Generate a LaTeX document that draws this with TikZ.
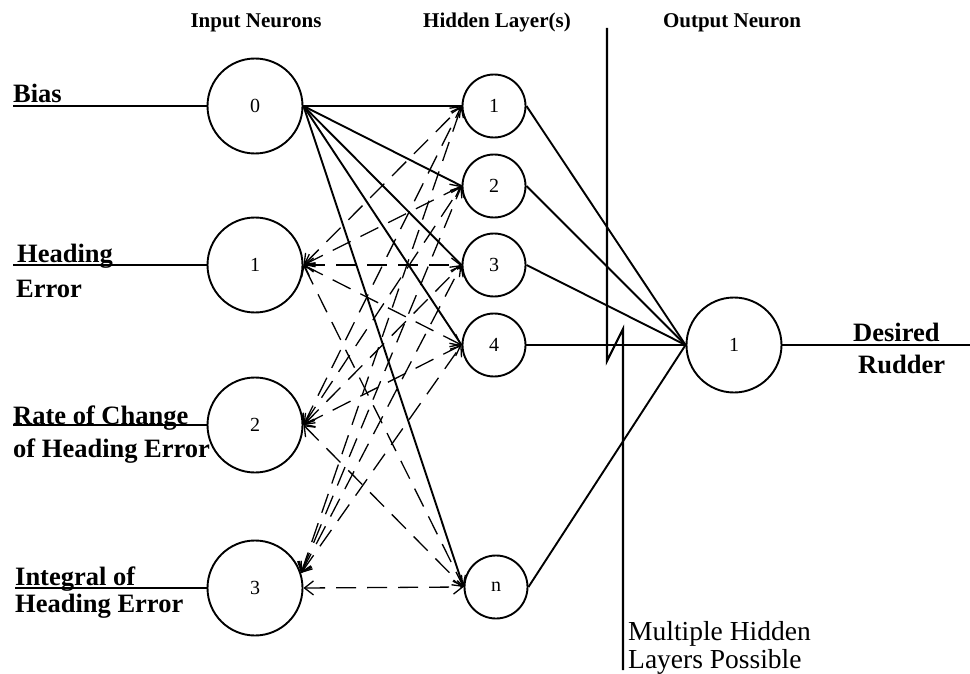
\documentclass[tikz,border=0pt]{standalone}
\usepackage{fontspec}
\setmainfont{Liberation Serif}
\usetikzlibrary{arrows.meta}
\begin{document}
\begin{tikzpicture}[x=1pt,y=-1pt,
  inneuron/.style={circle,draw,line width=1.9pt,minimum size=95pt,inner sep=0pt,font=\fontsize{20}{20}\selectfont},
  hidneuron/.style={circle,draw,line width=1.9pt,minimum size=63pt,inner sep=0pt,font=\fontsize{20}{20}\selectfont},
  conn/.style={line width=1.9pt},
  wire/.style={line width=1.9pt},
  dconn/.style={line width=1.3pt,dash pattern=on 20pt off 11pt,
     {Straight Barb[length=9pt,width=14pt,line width=1.3pt]}-{Straight Barb[length=9pt,width=14pt,line width=1.3pt]}},
  header/.style={font=\bfseries\fontsize{21}{21}\selectfont,anchor=base,inner sep=0pt},
  lbl/.style={font=\bfseries\fontsize{26.5}{26.5}\selectfont,anchor=base west,inner sep=0pt},
  note/.style={font=\fontsize{27.5}{27.5}\selectfont,anchor=base west,inner sep=0pt},
  divider/.style={line width=2.2pt},
]
\useasboundingbox (0,0) rectangle (970,674);

% headers
\node[header] (hin) at (256,28) {Input Neurons};
\node[header] (hhid) at (497,28) {Hidden Layer(s)};
\node[header] (hout) at (732,28) {Output Neuron};

% input neurons
\node[inneuron] (i0) at (255,106) {0};
\node[inneuron] (i1) at (255,265) {1};
\node[inneuron] (i2) at (255,425) {2};
\node[inneuron] (i3) at (255,588) {3};

% hidden neurons
\node[hidneuron] (h1) at (494,106) {1};
\node[hidneuron] (h2) at (494,186) {2};
\node[hidneuron] (h3) at (494,265) {3};
\node[hidneuron] (h4) at (494,345) {4};
\node[hidneuron] (hn) at (496,587) {n};

% output neuron
\node[inneuron] (o) at (734,345) {1};

% input wires and labels
\coordinate (b0) at (13,106);
\coordinate (b1) at (13,265);
\coordinate (b2) at (13,425);
\coordinate (b3) at (15,588);
\draw[wire] (b0) -- (i0.west);
\draw[wire] (b1) -- (i1.west);
\draw[wire] (b2) -- (i2.west);
\draw[wire] (b3) -- (i3.west);
\node[lbl] (tbias) at (13,103) {Bias};
\node[lbl] (thead1) at (17,262) {Heading};
\node[lbl] (thead2) at (16,297) {Error};
\node[lbl] (trate1) at (13,424) {Rate of Change};
\node[lbl] (trate2) at (13,457) {of Heading Error};
\node[lbl] (tint1) at (15,585) {Integral of};
\node[lbl] (tint2) at (15,612) {Heading Error};

% bias connections (solid)
\foreach \h in {h1,h2,h3,h4,hn}
  \draw[conn] (i0.east) -- (\h.west);

% dashed connections
\foreach \i in {i1,i2}
  \foreach \h in {h1,h2,h3,h4,hn}
    \draw[dconn] (\i.east) -- (\h.west);
\foreach \h in {h1,h2,h3,h4}
  \draw[dconn] (i3.18) -- (\h.west);
\draw[dconn] (i3.east) -- (hn.west);

% hidden to output
\foreach \h in {h1,h2,h3,h4,hn}
  \draw[conn] (\h.east) -- (o.west);

% output wire
\coordinate (oend) at (970,345);
\draw[wire] (o.east) -- (oend);
\node[lbl] (tdes) at (853,341) {Desired};
\node[lbl] (trud) at (858,373) {Rudder};

% divider with break
\coordinate (d1) at (607,28);
\coordinate (d2) at (607,361);
\coordinate (d3) at (623,329);
\coordinate (d4) at (623,670);
\draw[divider] (d1) -- (d2) -- (d3) -- (d4);
\node[note] (tm1) at (628,640) {Multiple Hidden};
\node[note] (tm2) at (628,668) {Layers Possible};
\end{tikzpicture}
\end{document}
